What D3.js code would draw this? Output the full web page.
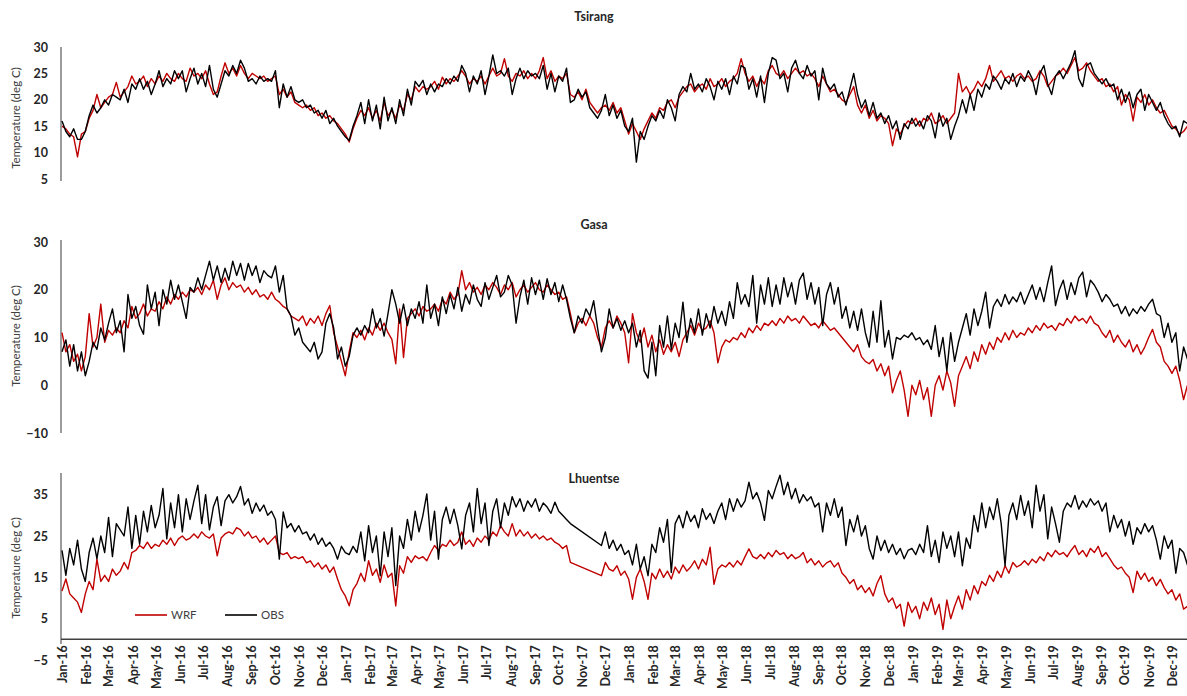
<!DOCTYPE html>
<html>
<head>
<meta charset="utf-8">
<script src="https://cdn.jsdelivr.net/npm/d3@7"></script>
<style>
  body { margin: 0; background: #fff; }
  text { font-family: Lato, "Open Sans", sans-serif; }
</style>
</head>
<body>
<div id="container"></div>
<script>
/* DATA: one reading every 5 days from 1 Jan 2016 */
const startDate = new Date(Date.UTC(2016, 0, 1));
const endDate = new Date(Date.UTC(2020, 0, 1));
const stepDays = 5;
const seriesNames = ["WRF", "OBS"];
const stationNames = ["Tsirang", "Gasa", "Lhuentse"];

const tsirangObs = [
  16,14,13,14.5,12.5,12.5,14,17,19,17.5,18.5,20,19,21,20.5,20,22,19.5,23,22,
  24,22,23.5,21,23,25.5,22.5,24,23,25.5,24,25.5,21.5,24,26,23,25,22.5,26.5,22,
  20.5,23,25.5,24.5,26.5,25,27.5,26,23.5,24,23,24.5,23.5,24,23.5,25.5,18.5,23,20.5,22.5,
  20,19.5,20,18.5,19,17.5,18,16.5,18,15.5,16.5,15,14,13,12.3,15,17,19.5,15.5,20,
  16,19,14.5,20.5,16,18.5,15.5,20,17,22,19,23.5,22.5,23.7,21,23,21.5,23,22.5,24,
  23,24.5,23.5,26.5,25,21.5,24.5,23,25.5,21,24.5,28.5,25,25.5,24.5,26,21,24,26,24,
  25.5,24.5,25,24,26.5,22,25,21.5,24.5,23.5,26,19.5,20,22,20.5,21.5,18.5,17.5,16.5,18,
  21,17,19,16.5,18,15,14,16.5,8.2,14,12.5,15,17,16,18,16.5,20,18.5,16,21,
  22.5,21.5,25,22,23,21.5,24,22.5,20,23.5,22,24,21,24.5,23,26.5,26,22,24,20.5,
  24.5,19.5,25,28,27.5,24,25,21.5,26,27.5,25,24,26.5,24.5,25.5,20,26,23,22,23,
  20.5,21.5,19,22,25,21,18.5,20,17,19.5,16.5,17.5,15.5,17,14.5,16,12.5,15.5,14.5,16.5,
  15,16,14.5,17,16,12.8,17.5,15,16.5,12.5,15,17,20,17.5,21,18,22,20.5,23,22,
  24.5,23.5,22,24,23,25,22.5,24.5,23.5,25.5,24,21,25,26.5,23,21,24.5,25.5,24,25.5,
  27,29.3,24,22.5,26.5,27,25,24,23,24,22.5,23,20,22,19.5,21.5,18.5,21,22,18,
  21,19.5,18,19.5,17,15.5,14.5,15,13,16,15.5,15,14.5
];
const tsirangWrf = [
  15,14.5,13.5,13,9.2,13.5,14,16.5,18,21,18.5,19.5,20.5,21,23.3,20.5,21.5,22.5,24.5,23,
  23.5,24.5,22.5,24,23,24.5,23.5,25,24,23.5,25,24,23.5,26,24.5,25,24,25.5,23,21,
  21.5,24.5,27,25,26,24.5,26.5,25,24,25,24.5,24,24.5,23.5,24,24.5,21,22,20.5,21.5,
  19.5,19,18.5,19,18,18.5,17,17.5,16.5,17,16,15.5,14.5,13.5,12,14.5,16.5,18,17,18.5,
  16.5,18,16,19.5,17,18,16.5,19,18,21,20,22.5,21.5,22.5,22,22.5,23.5,22,24.3,23,
  24,23.5,24.5,25.5,24.5,23,24,23.5,24.5,23,24.5,26,24.5,25,27.8,24.5,23.5,25,24.5,25.5,
  24,25,24,25.5,28,24,25.5,23.5,24.5,24,25,21,20.5,21.5,20,22,19.5,18.5,17.5,18.5,
  19,18,19.5,17.5,18.5,16,13.5,15.5,14,12.5,14.5,16,17.5,16.5,18.5,18,19.5,20,18.5,20.5,
  21.5,22.5,23,21.5,22.5,23,22,24,22.5,23,24,22.5,23.5,24,25,27.8,25,23.5,24.5,22.5,
  24,23,25.5,26.5,25,24.5,25.5,24,25,26,25,25.5,24.5,25,24,22.5,24.5,23,21.5,22,
  21,20,19.5,21,22.5,19,17.5,19,16.5,18,16,17,16.5,15.5,11.3,14.5,13.5,15,16,15.5,
  16.5,15,16.5,16,17.5,15.5,16,17,15.5,16.5,17.5,25,21.5,22.5,21,22,23.5,22.5,24,26.5,
  23.5,24.5,25.5,24,24.5,23.5,24.5,25,24,24.5,23.5,24,25.5,24.5,22.5,23.5,24.5,25,26,25,
  26.5,28,25.5,26,27,25.5,24.5,23.5,24,22.5,23,21.5,22.5,19,21,20,16,20.5,19.5,21,
  19,20,18.5,17.5,18,16.5,15,14.5,13.5,14,15,14.5,14
];

const gasaObs = [
  7,9.5,4,8.5,3,7,2,5,9,7.5,12,9.5,13,16,11,13.5,7,19,14,16.5,
  12.5,10.7,21,16,19.5,12.5,20,17,22,18,21,17.5,14,20.5,19.5,22.5,20,23,26,22,
  25,21.5,24.5,22,26,23,25.5,22,25.5,23,25,21.5,24,23,22.5,25,19.5,23,16,14.5,
  10.5,12,9,8,7,9,5.5,7,13,15,12,5.5,8,4,6,10.5,12,10.5,12.5,11,
  16,12,14,10.3,15,20,17,13,17,12.5,16,14,17.5,13,21,14,17,12.5,18.5,15,
  19,16,20.5,15.5,19,17,21,18,16.5,21.5,18,20.5,23,18.5,19.5,23,21,13,18.5,22,
  17,22.5,19,22,18,22.3,19,21.5,17.5,21,18,14,11,14.5,13,16,14.5,17.7,12,7,
  10,16,12,14,11.5,13.5,11,13,8,11.5,3,1.5,9,2,12.5,8,14.5,7.5,13,10,
  17.4,9,14,11,16,10.5,15,12,16.5,13,15.5,12.5,17.5,14,21.5,17,19,16.5,23,13,
  21,17,22.5,16.5,21,17,22.5,18.5,21.5,17,22,23.5,18,21.5,17,20.5,12.5,19,21.5,17,
  20.5,14,16.5,12,15.5,11.5,16,11,8,15.5,9,17.7,8,11.5,5.5,10,9.6,10.5,10,11,
  9.5,10,8.5,9.5,7.5,12.5,6,10,3,11,5,9,12,15,10.5,16,12.5,15.5,19.5,12,
  16.5,18,16.5,19,17,18.5,17.5,19.5,17,19,21,18,20.5,17.5,21.5,25,16.7,20,22,18,
  21.5,19,22.5,23.7,18.5,22,21,19.5,17.5,19,18,16.5,17,15,16.5,14.5,16,15,16.5,15.5,
  17,18,15,14.5,10,13,9,11,3,8,5.5,9,7
];
const gasaWrf = [
  11,7,8.5,5,6.5,3,6,15,8,10,17,9,11.5,10.5,12,11,13.5,12,16.5,14,
  15,17,14.5,16,15.5,17.5,16,18.5,17,19,18,19.5,18.5,20,19.5,20.5,19,21,20,22,
  18,21,22.5,20,21.5,20.5,21,19.5,20.5,19,20,18.5,19,18,19.5,18,17.4,16.5,16,14.5,
  14,13.5,14.5,12.5,14,13,14.5,12.5,15,16.7,11,8,5,2,7,11,10,11.5,9.5,12,
  10.5,13,11.5,13,11,9.6,4.5,16,5.8,14,15,16,14.5,16.5,15.5,16,17,15.5,18,17,
  19.5,18,19,24,20,21.5,19.5,20.5,19,21,20,21.5,20.5,19,21,20,21.5,18.5,20,21,
  19.5,20.5,21.5,20,19.5,21,20,19,19.5,18,18.5,15,11,13,14,12.5,14.5,13,10,8,
  12,13.5,12,14.5,13,11,4.7,15,11,9,12,8,10.5,7,9.5,6.5,8.5,7,9,6,
  9.5,11,12.5,10.5,13,11.5,12,13.5,11,4.7,8,9.5,9,10,9.5,11,10,12,11,12.5,
  11.5,13,12.5,13.5,12.5,14,13,14.5,13.5,14,13,14.5,13.5,12.5,13,12,13.5,12.5,11.5,12,
  11,10,9,8,7,8.5,6,5,4.5,5.4,3,4.5,2,4,-1.6,1,3,-1,-6.5,0,
  -2,1,-3,-0.5,-6.5,0,2,-1,3,0.5,-4.4,2,4,6,3.5,7,5,8.5,6.5,9,
  7.5,10,9,11,9.5,11.5,10,11,10.5,12,11,12.5,11.5,13,12,12.5,11.5,13,12.5,14,
  13,14.5,13.5,14,13,14.5,13,12.5,11,10,11.5,9,10.5,9,8,9.5,7,8.5,6.5,8,
  10,11.7,9,8,5,4,2.5,4,1,-3,0,-2,-5
];

// null = no reading (the chart joins the gap with a straight line)
const lhuentseObs = [
  21.5,15.5,22,18,24,17,14,21,24.5,19.5,25,21,29.5,20,28,26.5,25,32,22,30,
  23,31,26,32.4,27,30,36.5,24.3,33,27,35,26,34,29,33.5,37.3,28,35,26.5,32,
  34.5,27.5,33.5,35,33,34.5,37,32.5,34,30.5,33,31,32.5,30,31,29,19.4,30.8,27,28,
  26,27.5,25.5,26,24,25.5,23,24.5,22.5,23.5,22,19.4,22.5,21,20.5,22.5,21,26,19,27.5,
  21,25,15.4,26,20,27,13,25,22,29,24,31,26,30,35.2,24,31,19.4,29,32,
  28,31.5,27.5,21.9,30,33,26,36.5,28,33,22.7,31,34,27,33,30,34.5,32,34,31,
  33.5,32,34,31,33,32,30.5,33.2,31,30,29,28,null,null,null,null,null,null,null,22.7,
  26,22,24,21.5,23,20.5,21.5,18,23,17,20,15.4,23,21,27,23.5,29,16.2,28,30,
  27,31,28.5,30,27,31.6,29,30.5,28,31,33,29,34,31,34,32,33.5,38,34,35.5,
  33,28.8,36,34,37,39.7,35,38,34,36.5,33,35,33.5,34.5,32,33,26,33,30,34,
  29.5,32,22.7,29,26,30,25,27.5,22,19.4,25,21.5,24,21,23,20.5,22,19.5,21.5,22,
  20.5,23,21,27.5,20,24,18.6,26,22,25,20,26,17.8,24.5,22,30,26,33,27,32,
  29,34,28,17.8,30,33,29,34.8,30,33.5,27,37.3,31,35,24.3,32,28,23.5,31,33,
  32,34.8,31.5,33.5,32,34,32.5,33.5,31,33,26,30,27,29,25,28.5,23,27,25.5,28,
  26,27.5,24,19.4,25,22,24,16,22,21,18,21.5,19
];
const lhuentseWrf = [
  11.7,14.6,11,10,9,6.5,11,14,12,19.4,14,15.5,14,17,15.5,16.5,18.6,17,21,21.5,
  22.7,22,23.5,22,23,22.5,24,23,24.5,22.7,24.3,25,24,24.5,25.5,24.5,26,25,24.5,25.5,
  20.2,24.5,25.5,26,25.5,27,26.5,25,26,24.5,25,23.5,24.5,23,24,25,21,20.5,21,19.5,
  20,19.5,20,18.5,19,17.5,18.5,17,18,16.2,17.5,14.6,12,10.5,8.1,12,13.5,16,14,19,
  15.5,17,13.8,18,15,16,8.1,17.8,16,20,18.6,20.2,19.5,20,19,21,22.7,21.5,23,22.5,
  24,22.7,23.5,26,23,24,22.5,24.5,23.5,25,24,26,25,27.5,26,25,28,25,26.5,25,
  26,24.5,25.5,24.3,25,24,24.5,23.5,23,22,22.7,18.6,null,null,null,null,null,null,null,15.4,
  18.6,17,16.5,17.8,15.5,16.5,14.6,9.7,15,17,14,9.7,16,14.6,17,15,16.5,14.6,17.5,16,
  18,16.5,17.5,19,17,19.4,18,22.3,13.3,17,18,17.5,18.6,17.5,19,18,20,21.9,20,19.5,
  20.5,19.5,21,20,21.5,20.5,21,19.5,20.5,19.5,20,21,18.5,19.5,18,19,17.5,18.5,19,17.5,
  18.5,16,15,13.5,14.5,12,13,11.3,12.5,10.5,13.5,15.4,11,9,10,7.5,8.5,3.2,9,6.5,
  8,5,9,7,10,6,8.5,2.4,9.5,5,8,10.5,7.3,12,9.5,13,11,14,13,15.5,
  14,16.5,15,17.8,16,18.6,17.5,18,19,18,19.4,18.5,20,19,21,20,21.5,20.5,21,20,
  21.5,22.7,20.5,21.5,20,22,21,22.5,20,21,19.5,18,17,17.5,16,15,11.3,16.5,14.5,16,
  14,15,13,14.5,12.5,11,12,9.5,11,7.3,8,6.5,7.5
];

/* LAYOUT */
const width = 1187, height = 696;
const colors = { WRF: "#c00000", OBS: "#000000" };
const axisX = 61;

const panels = [
  { name: stationNames[0], wrf: tsirangWrf, obs: tsirangObs, domain: [5, 30], range: [179, 47],
    ticks: [5, 10, 15, 20, 25, 30], axisTop: 47, axisBottom: 181, titleY: 21, labelY: 118 },
  { name: stationNames[1], wrf: gasaWrf, obs: gasaObs, domain: [-10, 30], range: [433, 242],
    ticks: [-10, 0, 10, 20, 30], axisTop: 240, axisBottom: 433, titleY: 229, labelY: 336 },
  { name: stationNames[2], wrf: lhuentseWrf, obs: lhuentseObs, domain: [-5, 40], range: [660, 474],
    ticks: [-5, 5, 15, 25, 35], axisTop: 473, axisBottom: 644, titleY: 483, labelY: 568, xAxis: true }
];

const dates = d3.range(tsirangObs.length).map(i => d3.utcDay.offset(startDate, i * stepDays));
const months = d3.utcMonths(startDate, endDate);

const xScale = d3.scaleUtc()
  .domain([startDate, endDate])
  .range([62, 1196]);

const svg = d3.select("#container")
  .append("svg")
  .attr("width", width)
  .attr("height", height);

panels.forEach(p => {
  const yScale = d3.scaleLinear().domain(p.domain).range(p.range);
  const g = svg.append("g");

  // title
  g.append("text")
    .attr("x", 594)
    .attr("y", p.titleY)
    .attr("text-anchor", "middle")
    .attr("font-size", 12.5)
    .attr("font-weight", "bold")
    .attr("fill", "#262626")
    .text(p.name);

  // y axis
  const yAxis = d3.axisLeft(yScale).tickValues(p.ticks).tickSize(0).tickPadding(13);
  const ya = g.append("g")
    .attr("transform", `translate(${axisX},0)`)
    .call(yAxis);
  ya.select(".domain").remove();
  ya.selectAll("text")
    .attr("font-family", "Lato, 'Open Sans', sans-serif")
    .attr("font-size", 12.5)
    .attr("font-weight", "bold")
    .attr("fill", "#262626");
  g.append("line")
    .attr("x1", axisX).attr("x2", axisX)
    .attr("y1", p.axisTop).attr("y2", p.axisBottom)
    .attr("stroke", "#595959")
    .attr("stroke-width", 1.2);

  g.append("text")
    .attr("transform", `translate(20,${p.labelY}) rotate(-90)`)
    .attr("text-anchor", "middle")
    .attr("font-size", 11.5)
    .attr("fill", "#404040")
    .text("Temperature (deg C)");

  // x axis (bottom panel only)
  if (p.xAxis) {
    const xAxis = d3.axisBottom(xScale)
      .tickValues(months)
      .tickFormat(d3.utcFormat("%b-%y"))
      .tickSize(0);
    const xa = g.append("g")
      .attr("transform", `translate(0,${yScale(0)})`)
      .call(xAxis);
    xa.select(".domain").remove();
    xa.selectAll("text")
      .attr("font-family", "Lato, 'Open Sans', sans-serif")
      .attr("font-size", 12.5)
      .attr("font-weight", "bold")
      .attr("fill", "#262626")
      .attr("transform", "rotate(-90)")
      .attr("text-anchor", "end")
      .attr("x", -6)
      .attr("y", 0)
      .attr("dy", "0.35em");
    g.append("line")
      .attr("x1", axisX).attr("x2", width)
      .attr("y1", yScale(0)).attr("y2", yScale(0))
      .attr("stroke", "#404040")
      .attr("stroke-width", 1.5);
  }

  // lines: WRF first, OBS on top
  const line = d3.line()
    .x(d => xScale(d.date))
    .y(d => yScale(d.value));

  seriesNames.forEach(s => {
    const values = s === "WRF" ? p.wrf : p.obs;
    const pts = values
      .map((v, i) => ({ date: dates[i], value: v }))
      .filter(d => d.value !== null);
    g.append("path")
      .datum(pts)
      .attr("fill", "none")
      .attr("stroke", colors[s])
      .attr("stroke-width", 1.4)
      .attr("stroke-linejoin", "round")
      .attr("d", line);
  });
});

// legend in the bottom panel
const legend = svg.append("g").attr("transform", "translate(135,615)");
seriesNames.forEach((s, i) => {
  const lg = legend.append("g").attr("transform", `translate(${i * 90},0)`);
  lg.append("line")
    .attr("x1", 0).attr("x2", 32)
    .attr("stroke", colors[s])
    .attr("stroke-width", 1.6);
  lg.append("text")
    .attr("x", 36)
    .attr("y", 4)
    .attr("font-size", 11.5)
    .attr("fill", "#404040")
    .text(s);
});
</script>
</body>
</html>
